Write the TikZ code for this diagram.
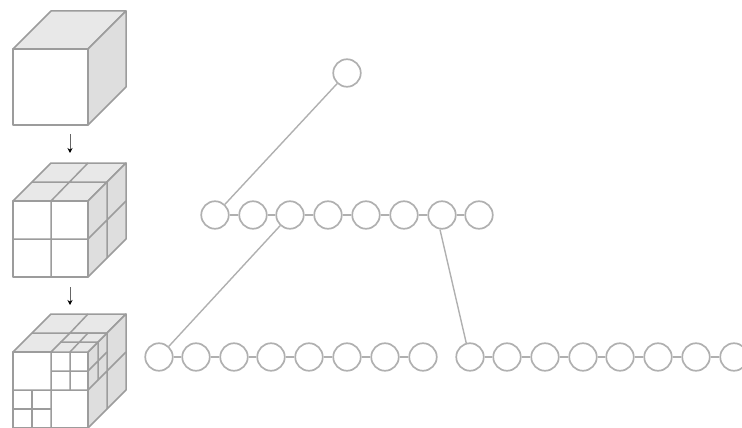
\documentclass[tikz,border=0pt]{standalone}
\usetikzlibrary{arrows.meta}
\begin{document}
\begin{tikzpicture}[x=1pt,y=-1pt,
  ring/.style={circle,draw=ringgray,line width=1.7pt,minimum size=27.5pt,inner sep=0pt,fill=white},
  link/.style={draw=ringgray,line width=1.4pt},
  cubeedge/.style={draw=edgegray,line width=1.5pt,line join=round},
  topface/.style={fill=topgray,cubeedge},
  sideface/.style={fill=sidegray,cubeedge},
  frontface/.style={fill=white,cubeedge},
  flow/.style={draw=black!60,line width=.8pt,-{Stealth[length=5pt,width=5pt,color=black]}}]
\definecolor{ringgray}{HTML}{B0B0B0}
\definecolor{edgegray}{HTML}{9C9C9C}
\definecolor{topgray}{HTML}{E8E8E8}
\definecolor{sidegray}{HTML}{DEDEDE}
\useasboundingbox (0,0) rectangle (742,428);
% cube 1
\path[topface] (13,49)--(51,11)--(126,11)--(88,49)--cycle;
\path[sideface] (88,49)--(126,11)--(126,87)--(88,125)--cycle;
\path[frontface] (13,49) rectangle (88,125);
% cube 2
\path[topface] (13,201)--(51,163)--(126,163)--(88,201)--cycle;
\path[sideface] (88,201)--(126,163)--(126,239)--(88,277)--cycle;
\path[frontface] (13,201) rectangle (88,277);
\path[cubeedge] (51,201)--(51,277) (13,239)--(88,239)
  (32,182)--(107,182) (51,201)--(88,163)
  (88,239)--(126,201) (107,182)--(107,258);
% cube 3
\path[topface] (13,352)--(51,314)--(126,314)--(88,352)--cycle;
\path[sideface] (88,352)--(126,314)--(126,390)--(88,428)--cycle;
\path[frontface] (13,352) rectangle (88,428);
\path[cubeedge] (51,352)--(51,428) (13,390)--(88,390)
  (32,333)--(107,333) (70,333)--(88,314)
  (88,390)--(126,352) (107,333)--(107,409);
% sub-cube of cube 3
\path[topface] (51,352)--(70,333)--(107,333)--(88,352)--cycle;
\path[cubeedge] (51,371)--(88,371) (70,352)--(70,390)
  (60,342)--(98,342) (70,352)--(88,333)
  (88,371)--(107,352) (98,342)--(98,380);
\path[cubeedge] (13,409)--(51,409) (32,390)--(32,428);
% arrows
\coordinate (a1) at (70,134); \coordinate (b1) at (70,153);
\coordinate (a2) at (70,287); \coordinate (b2) at (70,305);
\draw[flow] (a1)--(b1);
\draw[flow] (a2)--(b2);
% tree nodes
\node[ring] (root) at (347,73) {};
\foreach \i/\x in {1/215,2/253,3/290,4/328,5/366,6/404,7/442,8/479}
  \node[ring] (m\i) at (\x,215) {};
\foreach \i/\x in {1/159,2/196,3/234,4/271,5/309,6/347,7/385,8/423}
  \node[ring] (p\i) at (\x,357) {};
\foreach \i/\x in {1/470,2/507,3/545,4/583,5/620,6/658,7/696,8/734}
  \node[ring] (q\i) at (\x,357) {};
% chains
\foreach \a/\b in {1/2,2/3,3/4,4/5,5/6,6/7,7/8}{
  \draw[link] (m\a)--(m\b);
  \draw[link] (p\a)--(p\b);
  \draw[link] (q\a)--(q\b);
}
% parent links
\draw[link] (root)--(m1);
\draw[link] (m3)--(p1);
\draw[link] (m7.262)--(q1.105);
\end{tikzpicture}
\end{document}
